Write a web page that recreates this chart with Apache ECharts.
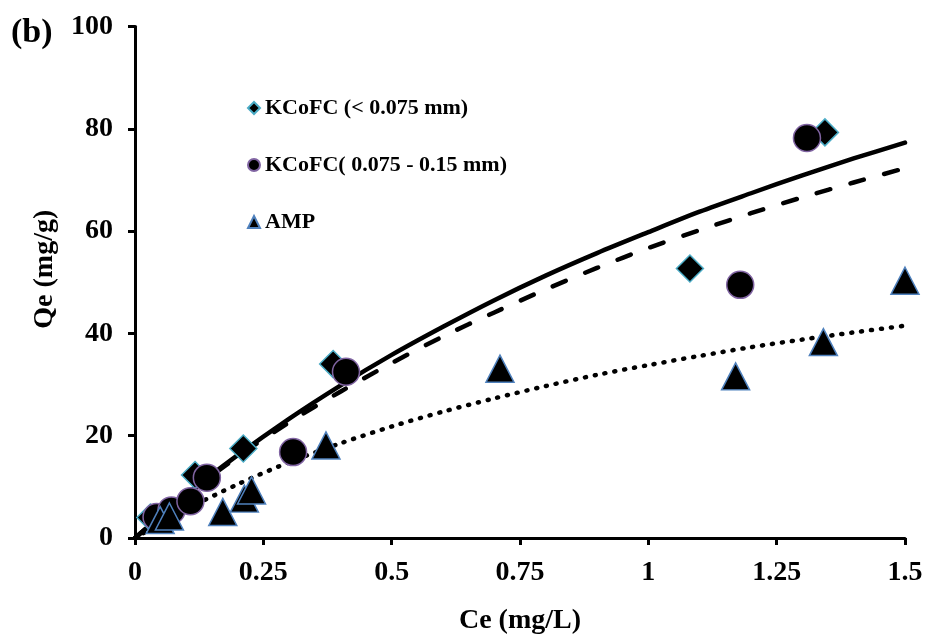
<!DOCTYPE html>
<html>
<head>
<meta charset="utf-8">
<script src="https://cdn.jsdelivr.net/npm/echarts@6/dist/echarts.min.js"></script>
<style>
html,body{margin:0;padding:0;background:#fff;}
#chart{width:929px;height:640px;}
</style>
</head>
<body>
<div id="chart"></div>
<script>
// ---- data ----
var seriesNames = ['KCoFC (< 0.075 mm)', 'KCoFC( 0.075 - 0.15 mm)', 'AMP'];
var kcofcFine = [[0.03,4.0],[0.117,12.3],[0.211,17.5],[0.386,34.0],[1.081,52.7],[1.344,79.3]];
var kcofcCoarse = [[0.042,4.1],[0.071,5.4],[0.108,7.2],[0.14,11.8],[0.308,16.8],[0.411,32.5],[1.179,49.5],[1.309,78.2]];
var amp = [[0.049,3.5],[0.067,4.2],[0.171,5.1],[0.213,7.7],[0.227,9.3],[0.372,18.1],[0.711,33.1],[1.170,31.6],[1.341,38.3],[1.5,50.3]];
// fitted curves read along the x positions below
var fitX = [0,0.1,0.2,0.3,0.4,0.5,0.6,0.7,0.8,0.9,1.0,1.1,1.2,1.3,1.4,1.5];
var fitSolid  = [0,8.5,16.2,23.3,29.8,35.8,41.3,46.5,51.3,55.7,59.8,63.8,67.4,70.9,74.2,77.3];
var fitDashed = [0,8.4,15.9,22.6,28.6,34.2,39.4,44.1,48.6,52.8,56.7,60.2,63.5,66.6,69.5,72.3];
var fitDotted = [0,5.6,10.5,14.8,18.5,21.8,24.7,27.3,29.7,31.9,33.8,35.6,37.3,38.8,40.2,41.5];
var xTicks = {min:0, max:1.5, interval:0.25};
var yTicks = {min:0, max:100, interval:20};

function pairs(xs, ys){ return xs.map(function(x,i){ return [x, ys[i]]; }); }

var font = 'Liberation Serif';
var chart = echarts.init(document.getElementById('chart'));
chart.setOption({
  animation:false,
  backgroundColor:'#fff',
  textStyle:{fontFamily:font},
  grid:{left:135, right:24, top:26.5, bottom:100, containLabel:false},
  graphic:[{type:'text', left:11, top:16, style:{text:'(b)', font:'bold 34px "Liberation Serif"', fill:'#000'}}],
  legend:{
    orient:'vertical', left:242, top:91, itemWidth:12, itemHeight:12, itemGap:33,
    data:seriesNames,
    textStyle:{fontFamily:font, fontWeight:'bold', fontSize:22, color:'#000', lineHeight:24}
  },
  xAxis:{
    type:'value', min:xTicks.min, max:xTicks.max, interval:xTicks.interval,
    name:'Ce (mg/L)', nameLocation:'middle', nameGap:69,
    nameTextStyle:{fontFamily:font, fontWeight:'bold', fontSize:28, color:'#000'},
    axisLine:{show:true, onZero:false, lineStyle:{color:'#000', width:3}},
    axisTick:{show:true, inside:false, length:7, lineStyle:{color:'#000', width:3}},
    axisLabel:{margin:21, fontFamily:font, fontWeight:'bold', fontSize:28, color:'#000'},
    splitLine:{show:false}
  },
  yAxis:{
    type:'value', min:yTicks.min, max:yTicks.max, interval:yTicks.interval,
    name:'Qe (mg/g)', nameLocation:'middle', nameGap:76,
    nameTextStyle:{fontFamily:font, fontWeight:'bold', fontSize:28, color:'#000', padding:[0,0,0,26]},
    axisLine:{show:true, onZero:false, lineStyle:{color:'#000', width:3}},
    axisTick:{show:true, inside:false, length:7, lineStyle:{color:'#000', width:3}},
    axisLabel:{margin:22, fontFamily:font, fontWeight:'bold', fontSize:28, color:'#000'},
    splitLine:{show:false}
  },
  series:[
    {type:'line', data:pairs(fitX, fitSolid), smooth:0.3, showSymbol:false, silent:true, z:1,
     lineStyle:{color:'#000', width:4.5, cap:'round'}},
    {type:'line', data:pairs(fitX, fitDashed), smooth:0.3, showSymbol:false, silent:true, z:1,
     lineStyle:{color:'#000', width:4.5, type:[14,21], cap:'round'}},
    {type:'line', data:pairs(fitX, fitDotted), smooth:0.3, showSymbol:false, silent:true, z:1,
     lineStyle:{color:'#000', width:4.5, type:[1,9], cap:'round'}},
    {name:seriesNames[0], type:'scatter', data:kcofcFine, symbol:'diamond', symbolSize:27, z:3,
     itemStyle:{color:'#000', borderColor:'#4bacc6', borderWidth:1.5, opacity:1}},
    {name:seriesNames[1], type:'scatter', data:kcofcCoarse, symbol:'circle', symbolSize:27, z:4,
     itemStyle:{color:'#000', borderColor:'#8064a2', borderWidth:1.5, opacity:1}},
    {name:seriesNames[2], type:'scatter', data:amp, symbol:'triangle', symbolSize:[28,27], z:5,
     itemStyle:{color:'#000', borderColor:'#4f81bd', borderWidth:1.5, opacity:1}}
  ]
});
</script>
</body>
</html>
